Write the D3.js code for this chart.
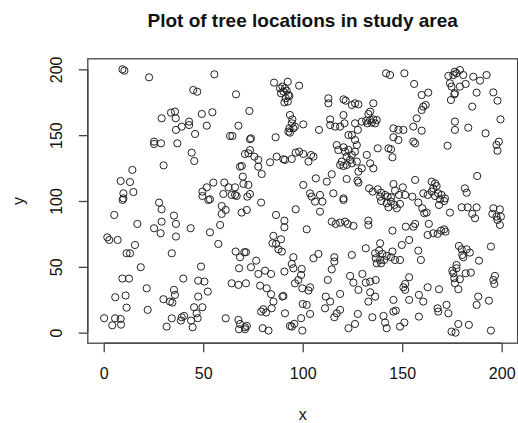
<!DOCTYPE html>
<html>
<head>
<meta charset="utf-8">
<script src="https://cdn.jsdelivr.net/npm/d3@7"></script>
<style>
  html, body { margin: 0; padding: 0; background: #fff; }
  svg text { font-family: "Liberation Sans", Arial, Helvetica, sans-serif; fill: #111; }
</style>
</head>
<body>
<svg id="chart" width="518" height="423"></svg>
<script>
// Tree locations (x, y) within the study area
const treeX = [
  9.4,10.4,22.8,45.0,47.0,29.1,33.8,35.8,36.2,42.9,42.9,39.2,36.3,45.9,25.3,25.3,28.8,37.0,44.2,45.5,30.1,14.4,8.5,13.2,9.9,9.9,14.9,
  55.6,66.5,85.6,88.6,89.8,91.1,90.3,92.0,89.1,92.8,91.5,90.8,92.5,93.3,98.2,92.5,49.3,54.6,51.8,73.2,67.7,63.5,64.7,73.5,74.0,86.4,
  93.6,94.8,94.5,93.3,92.8,95.3,96.1,93.6,100.3,71.0,72.7,73.5,75.7,77.7,68.5,69.4,77.7,79.4,83.6,86.9,90.3,91.1,94.5,96.5,98.2,100.3,
  69.9,70.2,72.7,73.5,72.2,60.6,62.7,66.0,60.1,64.3,66.0,66.8,55.1,51.8,49.6,49.6,53.4,100.3,
  141.9,143.9,151.1,156.0,112.9,112.9,120.5,121.6,124.7,126.3,128.0,135.5,133.9,133.0,120.5,113.8,113.8,116.3,118.8,121.0,126.3,
  129.7,131.9,133.9,135.5,137.2,134.7,136.4,132.5,108.2,123.0,124.7,127.7,126.3,145.6,148.1,150.6,155.6,157.3,148.1,145.6,155.6,156.5,
  137.7,143.1,144.4,145.1,117.1,117.9,120.5,121.3,123.0,122.1,124.7,126.3,127.2,123.8,119.6,118.8,120.5,122.1,124.7,127.2,128.0,129.7,
  132.2,133.9,135.5,104.2,105.4,102.9,106.6,112.1,114.6,122.1,127.5,128.0,103.7,104.5,108.7,115.4,120.5,133.4,135.2,137.7,139.4,141.4,
  138.9,142.7,144.4,145.6,146.4,150.3,148.4,151.5,155.1,156.5,
  176.5,179.0,173.2,175.7,177.3,180.7,174.0,174.8,179.0,181.9,176.5,176.2,174.5,185.7,189.1,192.4,187.4,195.8,197.9,185.2,159.8,163.1,
  160.6,161.8,159.8,176.5,176.5,183.2,159.8,199.4,191.9,172.8,197.4,198.6,197.9,187.7,164.8,166.5,167.3,165.6,160.6,162.8,164.8,166.5,
  168.1,169.8,171.5,169.0,181.5,182.4,
  9.5,27.8,29.1,5.3,16.9,35.3,36.3,29.1,25.3,28.6,36.3,43.7,1.8,2.8,7.0,15.7,11.5,13.2,34.2,18.6,9.4,12.7,40.0,47.5,21.6,35.3,35.8,
  5.8,11.0,30.0,33.3,34.5,11.5,22.1,45.4,47.5,0.2,5.7,8.5,4.3,8.7,31.6,34.2,39.2,40.4,38.8,43.9,44.7,46.7,47.2,
  52.6,59.3,61.3,59.3,71.9,69.3,79.1,86.6,96.5,90.8,90.8,58.5,53.4,57.6,48.9,50.6,52.3,49.6,85.3,89.1,84.8,86.6,87.8,89.5,66.3,68.5,
  70.7,71.5,76.6,74.0,68.0,77.7,81.1,84.1,64.3,67.7,71.5,78.6,81.9,84.1,90.3,89.8,90.8,95.3,94.5,95.3,99.5,99.2,97.8,99.8,96.1,85.3,
  84.4,79.1,80.2,81.6,91.1,100.0,99.2,95.8,93.6,94.5,99.8,79.9,82.8,61.3,67.7,68.5,71.0,71.9,68.0,71.0,
  106.2,109.9,108.7,120.5,139.4,142.2,144.4,146.1,148.9,143.1,147.3,102.0,114.6,116.6,118.8,121.3,122.6,125.5,133.0,133.0,145.1,151.8,
  155.6,156.5,131.7,138.9,136.4,138.4,140.1,136.7,138.9,140.9,137.2,139.4,142.2,145.1,144.4,146.4,148.9,149.8,153.5,124.7,107.9,105.4,
  115.9,115.9,114.6,112.6,123.8,125.5,130.0,128.0,131.7,133.9,136.7,133.9,136.4,133.0,151.5,150.6,151.5,153.5,103.7,102.9,111.6,113.8,
  111.2,118.8,102.0,103.7,117.1,118.8,115.9,127.7,123.0,126.3,135.0,140.6,141.4,142.2,145.6,146.8,145.6,153.5,151.1,148.9,
  158.1,160.1,162.3,161.1,168.5,171.1,174.0,179.9,182.9,185.2,186.6,187.4,195.8,199.1,195.3,197.4,199.6,197.9,199.1,163.4,162.8,165.6,
  167.8,169.5,171.1,171.8,158.1,159.4,178.5,179.9,182.4,184.0,180.2,180.7,194.6,188.6,177.3,175.2,175.7,177.3,179.0,176.2,176.5,178.2,
  181.9,184.5,196.6,195.8,196.3,158.4,160.6,162.8,168.5,158.4,167.8,168.1,172.3,173.2,188.2,187.4,193.6,178.2,183.5,174.8,176.8,194.6
];
const treeY = [
  200.0,199.0,193.9,184.3,183.0,162.8,167.1,167.9,162.8,160.3,157.7,156.5,154.0,150.9,145.1,143.3,143.8,143.8,136.7,130.4,127.1,123.6,115.2,114.4,105.8,102.0,106.8,
  196.2,181.0,189.9,185.6,186.9,185.6,183.1,183.8,181.8,180.5,178.0,174.9,175.5,179.8,187.6,190.6,166.1,167.4,157.2,168.4,157.2,149.4,149.4,146.9,147.6,148.4,
  165.3,162.0,159.0,155.2,152.7,155.2,156.5,151.9,158.2,135.7,136.2,138.7,133.7,131.2,126.1,126.6,126.1,120.5,129.4,133.7,131.7,131.2,131.9,136.7,137.5,135.7,
  118.5,113.0,112.2,105.3,103.3,114.0,110.4,110.4,105.3,104.6,104.6,103.8,114.0,110.4,107.1,103.8,101.3,112.2,
  197.0,195.7,197.0,188.9,178.0,174.2,177.2,176.2,172.9,174.2,173.4,174.2,167.9,166.1,165.3,162.0,157.7,156.5,156.5,159.0,159.0,
  160.3,161.0,161.5,162.0,161.5,159.5,159.0,159.0,154.0,150.1,150.1,154.0,146.3,155.2,154.0,154.0,156.5,162.8,146.3,148.4,145.1,143.8,
  140.0,140.0,139.3,133.2,142.5,138.7,140.8,137.5,138.8,133.7,135.0,137.5,142.5,131.2,129.9,127.4,126.6,127.4,128.6,129.9,122.3,124.8,
  135.0,128.6,124.8,134.9,133.7,129.9,117.2,114.7,120.3,116.7,115.5,114.0,105.8,103.3,104.6,105.8,102.0,109.6,107.1,108.9,106.4,104.6,
  103.3,103.3,102.8,112.9,107.9,110.4,104.6,104.6,103.3,116.0,
  198.2,199.5,195.0,195.7,197.0,195.7,189.4,186.9,186.9,188.9,181.8,181.0,176.7,194.4,191.4,195.7,182.3,182.5,176.2,171.7,180.5,182.3,
  171.7,172.9,169.1,160.3,154.0,155.7,153.4,162.0,151.4,142.0,142.6,145.1,138.2,119.0,114.7,113.4,111.4,109.6,105.8,104.6,107.1,103.8,
  105.8,104.6,102.0,101.3,109.6,106.3,
  100.8,98.8,93.7,89.4,82.6,88.9,82.6,84.3,79.3,75.5,73.0,79.3,72.4,70.4,70.4,66.6,60.3,60.3,60.3,49.7,41.1,41.1,41.1,39.5,33.7,32.5,28.7,
  26.9,28.2,25.4,23.6,22.8,19.0,17.3,19.3,27.4,11.0,10.9,10.4,5.6,6.1,4.6,10.9,11.7,12.7,9.2,9.2,4.1,14.7,11.0,
  100.8,96.2,93.2,90.2,93.2,91.2,98.8,89.4,93.7,85.1,80.0,81.8,76.2,67.4,50.2,38.8,31.2,19.3,73.5,70.9,67.9,67.4,63.3,61.6,61.6,57.3,
  61.1,61.1,54.7,49.7,48.9,44.6,47.1,44.6,37.5,36.3,37.5,35.7,33.7,29.2,27.9,27.4,46.4,57.3,52.2,48.9,48.4,43.8,40.0,33.7,37.5,23.6,
  18.5,16.0,17.8,15.3,14.7,21.8,11.0,6.7,5.1,4.6,1.6,3.4,1.6,10.9,9.7,6.6,4.1,5.1,2.6,2.6,
  99.5,99.5,91.9,100.8,100.0,98.3,99.5,97.0,97.8,95.2,94.5,78.5,84.3,82.6,83.6,84.3,82.6,81.1,85.1,81.8,77.5,80.5,
  80.5,82.6,64.1,67.9,60.3,62.3,59.8,56.5,55.2,55.2,52.7,52.7,58.3,61.6,57.3,55.2,55.2,66.6,70.4,59.0,59.8,56.5,
  57.3,54.0,48.1,40.0,43.1,38.0,44.6,32.5,38.0,38.8,40.0,30.7,27.4,23.6,37.0,34.5,32.5,42.1,34.5,32.0,27.4,23.6,
  18.5,29.4,21.1,14.2,14.7,17.3,11.7,14.2,3.4,6.6,11.7,12.7,7.7,3.4,16.0,16.8,24.9,24.9,7.7,4.6,
  98.8,94.5,91.2,90.7,97.0,100.0,91.2,95.2,95.2,90.2,86.9,95.2,94.5,93.7,90.2,88.1,88.1,85.6,81.8,82.6,74.2,75.5,
  75.0,77.5,78.5,76.7,62.3,55.2,65.9,63.3,63.3,60.8,59.0,57.3,65.4,54.7,51.4,47.1,45.1,48.9,40.6,41.3,37.5,33.0,
  45.1,45.6,43.1,40.0,37.0,28.7,23.6,34.5,33.0,12.2,18.5,16.0,21.1,14.7,27.4,21.1,24.3,6.6,5.9,0.8,0.0,1.6
];
const xTicks = [0, 50, 100, 150, 200];
const yTicks = [0, 50, 100, 150, 200];
const titleText = "Plot of tree locations in study area";
const xLabel = "x";
const yLabel = "y";

const trees = treeX.map((v, i) => ({ x: v, y: treeY[i] }));

const svg = d3.select("#chart");
const plotLeft = 87.8, plotRight = 517.6, plotTop = 58.8, plotBottom = 343.2;

// R-style 4% padding around the data range
const x = d3.scaleLinear().domain([-8, 208]).range([plotLeft, plotRight]);
const y = d3.scaleLinear().domain([-8, 208]).range([plotBottom, plotTop]);

// Points
svg.append("g")
  .selectAll("circle")
  .data(trees)
  .join("circle")
  .attr("cx", d => x(d.x))
  .attr("cy", d => y(d.y))
  .attr("r", 3.6)
  .attr("fill", "none")
  .attr("stroke", "#222")
  .attr("stroke-width", 1);

// Plot frame
svg.append("rect")
  .attr("x", plotLeft).attr("y", plotTop)
  .attr("width", plotRight - plotLeft).attr("height", plotBottom - plotTop)
  .attr("fill", "none").attr("stroke", "#444").attr("stroke-width", 1.3);

// Bottom axis
const gx = svg.append("g")
  .attr("transform", `translate(0,${plotBottom})`)
  .call(d3.axisBottom(x).tickValues(xTicks).tickSize(9).tickPadding(15).tickFormat(d3.format("d")));
gx.select(".domain").remove();
gx.append("line").attr("x1", x(xTicks[0])).attr("x2", x(xTicks[xTicks.length - 1]))
  .attr("stroke", "#444").attr("stroke-width", 1.3);
gx.selectAll(".tick line").attr("stroke", "#444").attr("stroke-width", 1.3);
gx.selectAll(".tick text").attr("font-size", 16).attr("fill", "#111")
  .style("font-family", "'Liberation Sans', Arial, sans-serif");

// Left axis, labels rotated as in base R graphics
const gy = svg.append("g")
  .attr("transform", `translate(${plotLeft},0)`)
  .call(d3.axisLeft(y).tickValues(yTicks).tickSize(9).tickFormat(d3.format("d")));
gy.select(".domain").remove();
gy.append("line").attr("y1", y(yTicks[0])).attr("y2", y(yTicks[yTicks.length - 1]))
  .attr("stroke", "#444").attr("stroke-width", 1.3);
gy.selectAll(".tick line").attr("stroke", "#444").attr("stroke-width", 1.3);
gy.selectAll(".tick text")
  .attr("x", 0).attr("y", -25.5).attr("dy", 0)
  .attr("transform", "rotate(-90)")
  .attr("text-anchor", "middle")
  .attr("font-size", 16).attr("fill", "#111")
  .style("font-family", "'Liberation Sans', Arial, sans-serif");

// Title and axis labels
svg.append("text")
  .attr("x", (plotLeft + plotRight) / 2).attr("y", 27)
  .attr("text-anchor", "middle")
  .attr("font-size", 19).attr("font-weight", "bold")
  .text(titleText);

svg.append("text")
  .attr("x", (plotLeft + plotRight) / 2).attr("y", 420)
  .attr("text-anchor", "middle")
  .attr("font-size", 16)
  .text(xLabel);

svg.append("text")
  .attr("transform", `translate(23.5,${(plotTop + plotBottom) / 2}) rotate(-90)`)
  .attr("text-anchor", "middle")
  .attr("font-size", 16)
  .text(yLabel);
</script>
</body>
</html>
